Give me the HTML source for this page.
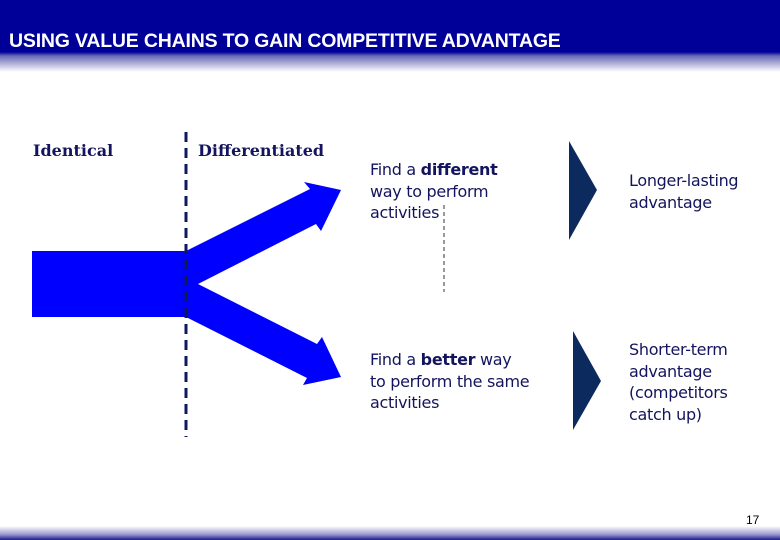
<!DOCTYPE html>
<html><head><style>
body{margin:0;width:780px;height:540px;position:relative;overflow:hidden;background:#fff;font-family:"DejaVu Sans",Verdana,sans-serif;color:#14145e}
.hd{position:absolute;left:0;top:0;width:780px;height:72px;background:linear-gradient(#000099 0,#000099 52px,#6a6ab8 56px,#fff 72px)}
.tt{position:absolute;left:9px;top:30px;font:bold 19.5px "Liberation Sans",Arial,sans-serif;color:#fff;letter-spacing:-0.2px}
.ft{position:absolute;left:0;top:526px;width:780px;height:14px;background:linear-gradient(#fff,#9a9ad0 60%,#1a1a90)}
.t{position:absolute;font-size:16px;line-height:21.5px;white-space:nowrap;letter-spacing:-0.3px}
.lb{position:absolute;font-family:"DejaVu Serif",serif;font-weight:bold;font-size:16px;color:#14145e}
</style></head><body>
<div class="hd"></div><div class="tt">USING VALUE CHAINS TO GAIN COMPETITIVE ADVANTAGE</div>
<div class="lb" style="left:33px;top:141px">Identical</div>
<div class="lb" style="left:198px;top:141px">Differentiated</div>
<svg width="780" height="540" style="position:absolute;left:0;top:0">
<polygon points="32,251 186,251 310,189 304,182 341,190 321,231 316,224 198,284 317,344 322,337 341,377 303,385 307,378 186,317 32,317" fill="#0000ff"/>
<line x1="186" y1="132" x2="186" y2="437" stroke="#0d1a5c" stroke-width="3" stroke-dasharray="10,6"/>
<line x1="444" y1="205" x2="444" y2="292" stroke="#333" stroke-width="1" stroke-dasharray="4,3"/>
<polygon points="569,141 597,190 569,240" fill="#0d2a5e"/>
<polygon points="573,331 601,381 573,430" fill="#0d2a5e"/>
</svg>
<div class="t" style="left:370px;top:159px">Find a <b>different</b><br>way to perform<br>activities</div>
<div class="t" style="left:370px;top:349px">Find a <b>better</b> way<br>to perform the same<br>activities</div>
<div class="t" style="left:629px;top:170px">Longer-lasting<br>advantage</div>
<div class="t" style="left:629px;top:339px">Shorter-term<br>advantage<br>(competitors<br>catch up)</div>
<div style="position:absolute;left:746px;top:513px;font:12px 'Liberation Sans',Arial,sans-serif;color:#000">17</div>
<div class="ft"></div>
</body></html>
